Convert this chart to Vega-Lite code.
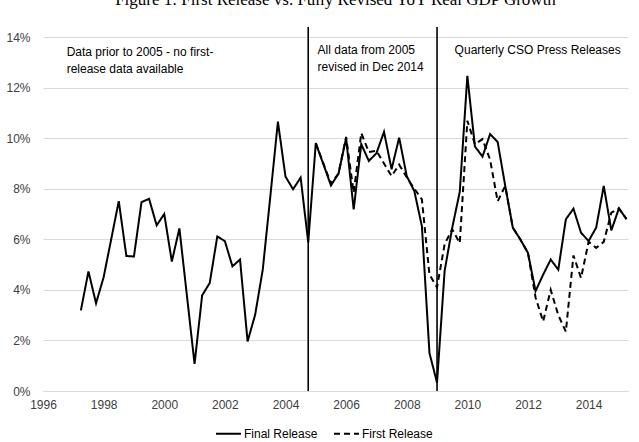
{
  "$schema": "https://vega.github.io/schema/vega-lite/v6.json",
  "width": 585,
  "height": 354,
  "autosize": {"type": "none"},
  "padding": {"left": 43, "top": 37, "right": 11, "bottom": 51},
  "background": "white",
  "title": {
    "text": "Figure 1: First Release vs. Fully Revised YoY Real GDP Growth",
    "font": "Liberation Serif",
    "fontSize": 17,
    "fontWeight": "normal",
    "color": "#000000",
    "anchor": "middle",
    "frame": "group",
    "baseline": "bottom",
    "offset": 0
  },
  "datasets": {
    "gdp": [
      {"t": 1997.25, "final": 3.19, "first": null},
      {"t": 1997.5, "final": 4.73, "first": null},
      {"t": 1997.75, "final": 3.47, "first": null},
      {"t": 1998.0, "final": 4.5, "first": null},
      {"t": 1998.25, "final": 6.0, "first": null},
      {"t": 1998.5, "final": 7.51, "first": null},
      {"t": 1998.75, "final": 5.34, "first": null},
      {"t": 1999.0, "final": 5.32, "first": null},
      {"t": 1999.25, "final": 7.47, "first": null},
      {"t": 1999.5, "final": 7.6, "first": null},
      {"t": 1999.75, "final": 6.55, "first": null},
      {"t": 2000.0, "final": 7.0, "first": null},
      {"t": 2000.25, "final": 5.12, "first": null},
      {"t": 2000.5, "final": 6.43, "first": null},
      {"t": 2000.75, "final": 3.75, "first": null},
      {"t": 2001.0, "final": 1.07, "first": null},
      {"t": 2001.25, "final": 3.78, "first": null},
      {"t": 2001.5, "final": 4.27, "first": null},
      {"t": 2001.75, "final": 6.11, "first": null},
      {"t": 2002.0, "final": 5.93, "first": null},
      {"t": 2002.25, "final": 4.93, "first": null},
      {"t": 2002.5, "final": 5.2, "first": null},
      {"t": 2002.75, "final": 1.96, "first": null},
      {"t": 2003.0, "final": 3.02, "first": null},
      {"t": 2003.25, "final": 4.8, "first": null},
      {"t": 2003.5, "final": 7.7, "first": null},
      {"t": 2003.75, "final": 10.65, "first": null},
      {"t": 2004.0, "final": 8.48, "first": null},
      {"t": 2004.25, "final": 7.98, "first": null},
      {"t": 2004.5, "final": 8.44, "first": null},
      {"t": 2004.75, "final": 5.88, "first": null},
      {"t": 2005.0, "final": 9.8, "first": 9.8},
      {"t": 2005.25, "final": 8.97, "first": 9.0},
      {"t": 2005.5, "final": 8.13, "first": 8.2},
      {"t": 2005.75, "final": 8.6, "first": 8.6},
      {"t": 2006.0, "final": 10.0, "first": 10.05},
      {"t": 2006.25, "final": 7.18, "first": 7.85},
      {"t": 2006.5, "final": 9.76, "first": 10.2},
      {"t": 2006.75, "final": 9.1, "first": 9.45},
      {"t": 2007.0, "final": 9.4, "first": 9.5},
      {"t": 2007.25, "final": 10.25, "first": 9.0},
      {"t": 2007.5, "final": 8.77, "first": 8.5},
      {"t": 2007.75, "final": 10.02, "first": 8.95},
      {"t": 2008.0, "final": 8.5, "first": 8.45},
      {"t": 2008.25, "final": 7.91, "first": 8.0},
      {"t": 2008.5, "final": 6.52, "first": 7.58},
      {"t": 2008.75, "final": 1.5, "first": 4.6},
      {"t": 2009.0, "final": 0.33, "first": 4.1},
      {"t": 2009.25, "final": 4.75, "first": 5.8},
      {"t": 2009.5, "final": 6.45, "first": 6.4},
      {"t": 2009.75, "final": 7.88, "first": 5.85},
      {"t": 2010.0, "final": 12.46, "first": 10.69},
      {"t": 2010.25, "final": 9.67, "first": 9.76},
      {"t": 2010.5, "final": 9.27, "first": 9.96},
      {"t": 2010.75, "final": 10.16, "first": 9.15},
      {"t": 2011.0, "final": 9.85, "first": 7.5},
      {"t": 2011.25, "final": 8.11, "first": 8.11},
      {"t": 2011.5, "final": 6.46, "first": 6.46},
      {"t": 2011.75, "final": 5.99, "first": 5.99},
      {"t": 2012.0, "final": 5.46, "first": 5.46},
      {"t": 2012.25, "final": 3.95, "first": 3.7},
      {"t": 2012.5, "final": 4.6, "first": 2.75},
      {"t": 2012.75, "final": 5.2, "first": 4.0},
      {"t": 2013.0, "final": 4.8, "first": 3.0},
      {"t": 2013.25, "final": 6.79, "first": 2.35},
      {"t": 2013.5, "final": 7.21, "first": 5.36},
      {"t": 2013.75, "final": 6.26, "first": 4.47},
      {"t": 2014.0, "final": 5.93, "first": 5.9},
      {"t": 2014.25, "final": 6.46, "first": 5.66},
      {"t": 2014.5, "final": 8.11, "first": 5.9},
      {"t": 2014.75, "final": 6.35, "first": 7.05},
      {"t": 2015.0, "final": 7.22, "first": 7.22},
      {"t": 2015.25, "final": 6.8, "first": 6.8}
    ],
    "breaks": [
      {"t": 2004.75},
      {"t": 2009.0}
    ],
    "notes": [
      {"t": 1996.78, "v": 13.4, "label": "Data prior to 2005 - no first-"},
      {"t": 1996.78, "v": 12.73, "label": "release data available"},
      {"t": 2005.06, "v": 13.5, "label": "All data from 2005"},
      {"t": 2005.06, "v": 12.83, "label": "revised in Dec 2014"},
      {"t": 2009.58, "v": 13.5, "label": "Quarterly CSO Press Releases"}
    ]
  },
  "layer": [
    {
      "data": {"name": "gdp"},
      "transform": [{"fold": ["final", "first"], "as": ["series", "growth"]}],
      "mark": {"type": "line", "color": "#000000", "strokeWidth": 2},
      "encoding": {
        "x": {
          "field": "t",
          "type": "quantitative",
          "scale": {"domain": [1996, 2015.3], "nice": false, "zero": false},
          "axis": {
            "title": null,
            "values": [1996, 1998, 2000, 2002, 2004, 2006, 2008, 2010, 2012, 2014],
            "format": "d",
            "grid": false,
            "ticks": false,
            "domain": true,
            "domainColor": "#d9d9d9",
            "domainWidth": 1,
            "labelFlush": false,
            "labelPadding": 8,
            "labelFont": "Liberation Sans",
            "labelFontSize": 12,
            "labelColor": "#404040"
          }
        },
        "y": {
          "field": "growth",
          "type": "quantitative",
          "scale": {"domain": [0, 14], "nice": false},
          "axis": {
            "title": null,
            "values": [0, 2, 4, 6, 8, 10, 12, 14],
            "labelExpr": "datum.value + '%'",
            "grid": true,
            "gridColor": "#d9d9d9",
            "gridWidth": 1,
            "ticks": false,
            "domain": false,
            "labelPadding": 13,
            "labelFont": "Liberation Sans",
            "labelFontSize": 12,
            "labelColor": "#404040"
          }
        },
        "strokeDash": {
          "field": "series",
          "type": "nominal",
          "scale": {"domain": ["final", "first"], "range": [[1, 0], [6, 4]]},
          "legend": {
            "title": null,
            "orient": "none",
            "legendX": 172,
            "legendY": 383,
            "direction": "horizontal",
            "symbolType": "stroke",
            "symbolStrokeColor": "#000000",
            "symbolStrokeWidth": 2,
            "symbolSize": 625,
            "labelFont": "Liberation Sans",
            "labelFontSize": 12,
            "labelColor": "#000000",
            "labelOffset": 2,
            "columnPadding": 12,
            "labelExpr": "datum.value == 'final' ? 'Final Release' : 'First Release'"
          }
        }
      }
    },
    {
      "data": {"name": "breaks"},
      "mark": {"type": "rule", "color": "#000000", "strokeWidth": 1.6, "clip": false},
      "encoding": {
        "x": {"field": "t", "type": "quantitative"},
        "y": {"datum": 0, "type": "quantitative"},
        "y2": {"datum": 14.4}
      }
    },
    {
      "data": {"name": "notes"},
      "mark": {
        "type": "text",
        "align": "left",
        "baseline": "middle",
        "font": "Liberation Sans",
        "fontSize": 12,
        "color": "#000000"
      },
      "encoding": {
        "x": {"field": "t", "type": "quantitative"},
        "y": {"field": "v", "type": "quantitative"},
        "text": {"field": "label"}
      }
    }
  ],
  "config": {
    "view": {"stroke": null}
  }
}
